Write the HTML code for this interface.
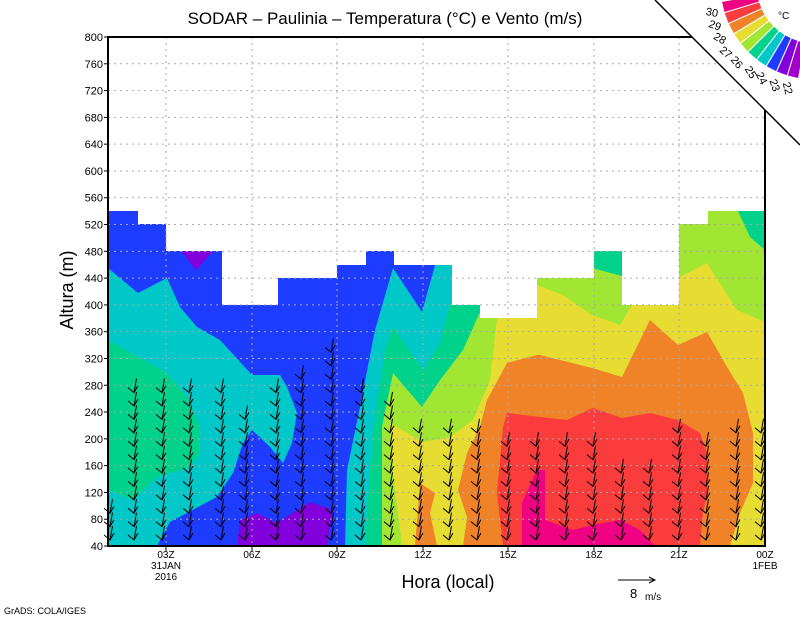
<!DOCTYPE html>
<html><head><meta charset="utf-8"><style>
html,body{margin:0;padding:0;background:#fff;}
svg{display:block;font-family:"Liberation Sans",sans-serif;}
</style></head><body>
<svg id="s" width="800" height="618" viewBox="0 0 800 618" xmlns="http://www.w3.org/2000/svg">
<rect width="800" height="618" fill="#fff"/>
<defs>
<clipPath id="dc"><polygon points="108,211 138,211 138,224 166,224 166,251 222,251 222,305 278,305 278,278 337,278 337,265 366,265 366,251 394,251 394,265 452,265 452,305 480,305 480,318 537,318 537,278 594,278 594,251 622,251 622,305 679,305 679,224 708,224 708,211 765,211 765,546 108,546"/></clipPath>
</defs>
<g clip-path="url(#dc)">
<rect x="108" y="200" width="657" height="346" fill="#1e3cff"/>
<polygon fill="#8200dc" points="181,251 213,251 196,270"/>
<polygon fill="#8200dc" points="237,546 240,520 257,513 277,523 310,502 333,510 327,546"/>
<polygon fill="#00c8c8" points="108,268 138,293 167,278 180,307 197,327 220,340 252,375 280,375 287,387 297,413 292,443 283,463 270,447 252,430 243,443 233,473 217,497 170,522 157,546 108,546"/>
<polygon fill="#00d28c" points="108,340 167,373 187,397 200,427 200,453 190,467 157,477 133,500 108,490"/>
<polygon fill="#00c8c8" points="345,546 347,470 360,407 375,330 393,268 422,312 435,265 455,265 455,546"/>
<polygon fill="#00d28c" points="365,546 372,440 385,350 393,327 423,370 440,343 451,300 480,300 765,200 765,546"/>
<polygon fill="#a0e632" points="382,546 382,427 393,373 422,407 440,380 463,350 480,312 480,300 537,300 537,250 592,250 592,267 622,275 622,250 679,224 708,211 738,211 750,237 765,250 765,546"/>
<polygon fill="#00d28c" points="590,245 624,245 622,276 592,268"/>
<polygon fill="#e6dc32" points="402,546 393,473 390,423 423,442 450,437 473,420 490,380 497,318 537,285 563,295 592,315 620,325 632,305 678,278 707,263 737,310 765,322 765,546"/>
<polygon fill="#f08228" points="463,546 467,517 458,490 467,453 480,427 487,400 507,363 537,355 540,355 592,368 622,377 650,320 678,345 707,332 727,367 743,393 753,433 753,483 740,513 730,546"/>
<polygon fill="#f08228" points="415,546 420,483 435,493 430,513 437,546"/>
<polygon fill="#fa3c3c" points="503,546 497,493 503,427 507,413 540,417 567,420 593,408 622,418 650,413 678,420 700,433 707,453 707,493 703,513 700,546"/>
<polygon fill="#f00082" points="522,546 522,503 537,470 545,470 545,520 573,530 593,525 620,520 640,530 655,546"/>
</g>
<g id="grid" stroke="#aaa" stroke-width="1" stroke-dasharray="2,4" fill="none"></g>
<g id="barbs" stroke="#000" stroke-width="1" fill="none"></g>
<g id="ylab" font-size="11" text-anchor="end" fill="#000"></g>
<rect x="108" y="37" width="657" height="509" fill="none" stroke="#000" stroke-width="2"/>
<g font-size="10" text-anchor="middle" fill="#000">
<text x="166" y="558">03Z</text><text x="166" y="569">31JAN</text><text x="166" y="580">2016</text>
<text x="252" y="558">06Z</text><text x="337" y="558">09Z</text><text x="423" y="558">12Z</text>
<text x="508" y="558">15Z</text><text x="594" y="558">18Z</text><text x="679" y="558">21Z</text>
<text x="765" y="558">00Z</text><text x="765" y="569">1FEB</text>
</g>
<text x="385" y="24" font-size="17" text-anchor="middle">SODAR – Paulinia – Temperatura (°C) e Vento (m/s)</text>
<text x="448" y="588" font-size="18" text-anchor="middle">Hora (local)</text>
<text transform="translate(73,290) rotate(-90)" font-size="18" text-anchor="middle">Altura (m)</text>
<text x="4" y="614" font-size="9">GrADS: COLA/IGES</text>
<line x1="618" y1="580" x2="655" y2="580" stroke="#000"/>
<polyline points="649,577 655,580 649,583" stroke="#000" fill="none"/>
<text x="630" y="598" font-size="13">8</text><text x="645" y="600" font-size="10">m/s</text>
<polygon fill="#fff" points="655,0 800,0 800,145"/>
<line x1="655" y1="0" x2="800" y2="145" stroke="#000" stroke-width="1.5"/>
<g id="leg"></g>
<g font-size="11" fill="#000">
<text x="706" y="16" transform="rotate(10 712 12)">30</text>
<text x="709" y="29" transform="rotate(20 715 25)">29</text>
<text x="714" y="42" transform="rotate(30 720 38)">28</text>
<text x="720" y="56" transform="rotate(40 726 52)">27</text>
<text x="731" y="66" transform="rotate(50 737 62)">26</text>
<text x="745" y="76" transform="rotate(58 751 72)">25</text>
<text x="756" y="82" transform="rotate(64 762 78)">24</text>
<text x="769" y="89" transform="rotate(70 775 85)">23</text>
<text x="782" y="92" transform="rotate(76 788 88)">22</text>
<text x="778" y="19" font-size="10">°C</text>
</g>
</svg>
<script>
var NS="http://www.w3.org/2000/svg";
function el(p,t,a){var e=document.createElementNS(NS,t);for(var k in a)e.setAttribute(k,a[k]);p.appendChild(e);return e;}
var g=document.getElementById('grid'),yl=document.getElementById('ylab');
for(var i=0;i<=19;i++){var y=37+i*509/19;
 if(i>0&&i<19)el(g,'line',{x1:108,x2:765,y1:y,y2:y});
 el(yl,'line',{x1:104,x2:108,y1:y,y2:y,stroke:'#000'});
 var t=el(yl,'text',{x:103,y:y+4});t.textContent=800-40*i;}
var xs=[166,252,337,423,508,594,679];
xs.forEach(function(x){el(g,'line',{x1:x,x2:x,y1:37,y2:546});el(yl,'line',{x1:x,x2:x,y1:546,y2:551,stroke:'#000'});});
var b=document.getElementById('barbs');
var cols=[[111,500],[135,383],[163,383],[190,385],[222,385],[246,410],[277,385],[302,370],[332,345],[362,385],[391,398],[420,425],[450,425],[478,430],[508,440],[537,440],[566,440],[594,440],[622,465],[650,465],[679,425],[707,435],[737,425],[762,425]];
cols.forEach(function(c){var x=c[0];
 for(var y=540;y>=c[1];y-=13.4){
  el(b,'line',{x1:x+1.5,y1:y-14,x2:x-1,y2:y});
  el(b,'polyline',{points:(x-7)+','+(y-5)+' '+(x-1)+','+y+' '+(x+3)+','+(y-7)});
 }});
var lg=document.getElementById('leg');
var cols2=['#f00082','#fa3c3c','#f08228','#e6dc32','#a0e632','#00d28c','#00c8c8','#1e3cff','#8200dc','#a000c8'];
var cx=815,cy=-15,r1=58,r2=95,a0=170,da=-7;
for(var k=0;k<10;k++){var a=(a0+k*da)*Math.PI/180,b2=(a0+(k+1)*da)*Math.PI/180;
 var p=[[cx+r1*Math.cos(a),cy+r1*Math.sin(a)],[cx+r2*Math.cos(a),cy+r2*Math.sin(a)],[cx+r2*Math.cos(b2),cy+r2*Math.sin(b2)],[cx+r1*Math.cos(b2),cy+r1*Math.sin(b2)]];
 el(lg,'polygon',{points:p.map(function(q){return q.join(',')}).join(' '),fill:cols2[k],stroke:'#fff','stroke-width':1});}
</script>
</body></html>
